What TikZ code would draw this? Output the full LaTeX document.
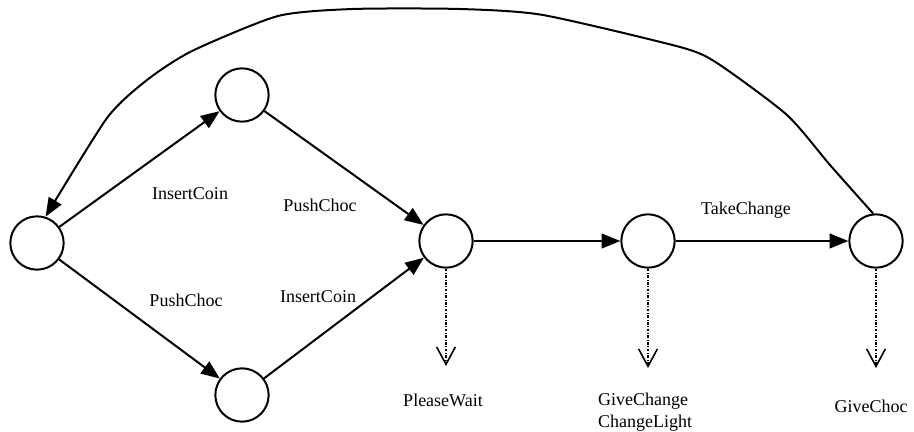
\documentclass[tikz,border=0pt]{standalone}
\usepackage{fontspec}
\setmainfont{Liberation Serif}
\usetikzlibrary{arrows.meta}
\begin{document}
\begin{tikzpicture}[x=0.75pt,y=-0.75pt,
  state/.style={circle,draw,line width=1.5pt,minimum size=40pt,inner sep=0pt},
  edge/.style={line width=1.5pt,line join=round,-{Triangle[length=14pt,width=11pt]}},
  outp/.style={line width=1.6pt,dash pattern=on 2pt off 1.2pt on 0.6pt off 1.2pt,-{Straight Barb[length=13pt,width=14pt,line width=1.2pt]}},
  lbl/.style={font=\fontsize{13.5}{16.5}\selectfont,inner sep=0pt}]
\useasboundingbox (0,0) rectangle (914,432);
\node[state] (s0) at (37,243) {};
\node[state] (s1) at (242,95) {};
\node[state] (s2) at (242,395) {};
\node[state] (s3) at (446,241) {};
\node[state] (s4) at (648,241) {};
\node[state] (s5) at (876,241) {};
\draw[edge] (s0) -- (s1);
\draw[edge] (s0) -- (s2);
\draw[edge] (s1) -- (s3);
\draw[edge] (s2) -- (s3);
\draw[edge] (s3) -- (s4);
\draw[edge] (s4) -- (s5);
\coordinate (w1) at (830,165);
\coordinate (w2) at (787,115);
\coordinate (w3) at (717,63);
\coordinate (w4) at (680,47);
\coordinate (w5) at (543,15);
\coordinate (w6) at (460,9);
\coordinate (w7) at (353,9);
\coordinate (w8) at (278,16);
\coordinate (w9) at (192,51);
\coordinate (w10) at (147,80);
\coordinate (w11) at (107,118);
\draw[edge] plot[smooth,tension=0.4] coordinates {(s5.96) (w1) (w2) (w3) (w4) (w5) (w6) (w7) (w8) (w9) (w10) (w11) (s0.72)};
\node[lbl] (l1) at (190,194) {InsertCoin};
\node[lbl] (l2) at (320,205) {PushChoc};
\node[lbl] (l3) at (186,300) {PushChoc};
\node[lbl] (l4) at (318,297) {InsertCoin};
\node[lbl] (l5) at (746,210) {TakeChange};
\coordinate (o3) at (446,366);
\coordinate (o4) at (648,368);
\coordinate (o5) at (876,368);
\draw[outp] (s3) -- (o3);
\draw[outp] (s4) -- (o4);
\draw[outp] (s5) -- (o5);
\node[lbl] (t3) at (443,400) {PleaseWait};
\node[lbl,align=left] (t4) at (645,412) {GiveChange\\ChangeLight};
\node[lbl] (t5) at (871,406) {GiveChoc};
\end{tikzpicture}
\end{document}
